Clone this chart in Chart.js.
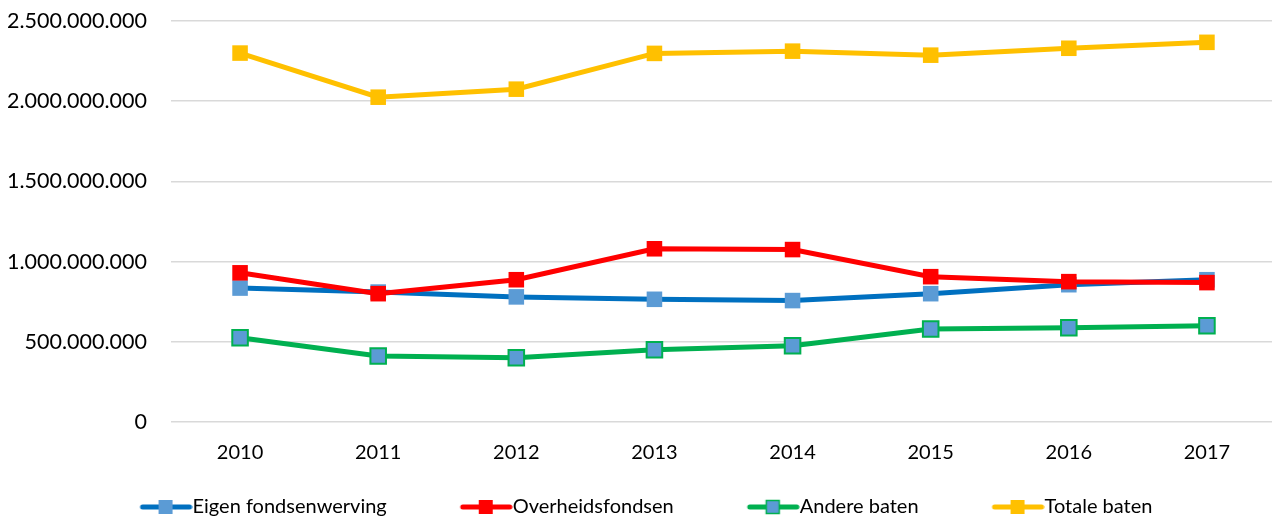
<!DOCTYPE html>
<html>
<head>
<meta charset="utf-8">
<script src="https://cdn.jsdelivr.net/npm/chart.js@4"></script>
<style>
  html, body { margin: 0; padding: 0; background: #fff; overflow: hidden; }
  #wrap { position: relative; width: 1289px; height: 517px; }
</style>
</head>
<body>
<div id="wrap"><canvas id="chart"></canvas></div>
<script>
// Data
const years = ['2010', '2011', '2012', '2013', '2014', '2015', '2016', '2017'];
const eigenFondsenwerving = [835000000, 810000000, 780000000, 765000000, 757000000, 800000000, 856000000, 887000000];
const overheidsfondsen = [930000000, 800000000, 887000000, 1080000000, 1075000000, 906000000, 875000000, 869000000];
const andereBaten = [525000000, 412000000, 400000000, 450000000, 475000000, 580000000, 588000000, 600000000];
const totaleBaten = [2300000000, 2025000000, 2075000000, 2298000000, 2312000000, 2287000000, 2330000000, 2367000000];
const yTicks = [0, 500000000, 1000000000, 1500000000, 2000000000, 2500000000];

const FONT = 'Lato, "DejaVu Sans", sans-serif';
const BOX_W = 106;   // legend slot for the sample, includes spacing to previous item

// legend sample: line with square marker, sitting at the right side of the slot
function legendIcon(lineColor, fill, border) {
    const c = document.createElement('canvas');
    c.width = BOX_W + 20;
    c.height = 18;
    const ctx = c.getContext('2d');
    const end = c.width - 3;
    ctx.strokeStyle = lineColor;
    ctx.lineWidth = 5;
    ctx.lineCap = 'round';
    ctx.beginPath();
    ctx.moveTo(end - 47, 9);
    ctx.lineTo(end, 9);
    ctx.stroke();
    ctx.fillStyle = fill;
    ctx.fillRect(end - 31, 2, 14, 14);
    if (border) {
        ctx.strokeStyle = border;
        ctx.lineWidth = 1.5;
        ctx.strokeRect(end - 30.5, 2.5, 13, 13);
    }
    return c;
}

const series = [
    { label: 'Eigen fondsenwerving', data: eigenFondsenwerving, line: '#0070C0', fill: '#5B9BD5', border: '#5B9BD5', order: 4 },
    { label: 'Overheidsfondsen', data: overheidsfondsen, line: '#FF0000', fill: '#FF0000', border: '#FF0000', order: 3 },
    { label: 'Andere baten', data: andereBaten, line: '#00B050', fill: '#5B9BD5', border: '#00B050', order: 2 },
    { label: 'Totale baten', data: totaleBaten, line: '#FFC000', fill: '#FFC000', border: '#FFC000', order: 1 }
];

const icons = series.map(s => legendIcon(s.line, s.fill, s.border !== s.fill ? s.border : null));

function fmt(v) {
    return String(v).replace(/\B(?=(\d{3})+(?!\d))/g, '.');
}

// nudge the legend row a bit to the left, like the original
const legendShift = {
    id: 'legendShift',
    afterLayout(chart) {
        chart.legend.left -= 34;
        chart.legend.right -= 34;
    }
};

new Chart(document.getElementById('chart'), {
    type: 'line',
    data: {
        labels: years,
        datasets: series.map(s => ({
            label: s.label,
            data: s.data,
            borderColor: s.line,
            borderWidth: 5,
            tension: 0,
            pointStyle: 'rect',
            pointRadius: 11,
            pointHoverRadius: 11,
            pointBackgroundColor: s.fill,
            pointBorderColor: s.border,
            pointBorderWidth: s.border !== s.fill ? 2 : 0,
            order: s.order
        }))
    },
    plugins: [legendShift],
    options: {
        responsive: true,
        maintainAspectRatio: false,
        animation: false,
        layout: { padding: { top: 0, right: 0, left: 8, bottom: -10 } },
        plugins: {
            tooltip: { enabled: false },
            legend: {
                position: 'bottom',
                labels: {
                    usePointStyle: true,
                    pointStyleWidth: BOX_W,
                    padding: 10,
                    color: '#000',
                    font: { family: FONT, size: 20 },
                    generateLabels: () => series.map((s, i) => ({
                        text: s.label,
                        pointStyle: icons[i],
                        fillStyle: s.fill,
                        strokeStyle: s.line,
                        lineWidth: 0,
                        hidden: false,
                        datasetIndex: i
                    }))
                }
            }
        },
        scales: {
            x: {
                offset: true,
                grid: { display: false, drawTicks: false },
                border: { display: false },
                afterFit: axis => {
                    axis.paddingLeft = 0;
                    axis.paddingRight = 0;
                    axis.height += 3;
                },
                ticks: { color: '#000', font: { family: FONT, size: 20 }, padding: 19 }
            },
            y: {
                min: 0,
                max: 2500000000,
                afterBuildTicks: axis => { axis.ticks = yTicks.map(v => ({ value: v })); },
                afterFit: axis => {
                    axis.width = 163;
                    axis.paddingTop = 21;
                    axis.paddingBottom = 0;
                },
                grid: { color: '#D9D9D9', lineWidth: 1.5, drawTicks: false },
                border: { display: false },
                ticks: {
                    color: '#000',
                    font: { family: FONT, size: 21.5 },
                    padding: 24,
                    callback: v => fmt(v)
                }
            }
        }
    }
});
</script>
</body>
</html>
